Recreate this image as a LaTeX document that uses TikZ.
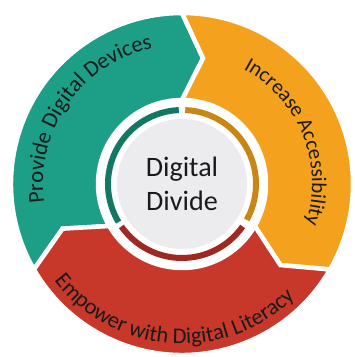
\documentclass[tikz,border=0pt]{standalone}
\usepackage{fontspec}
\setmainfont{Carlito}
\usetikzlibrary{decorations.text}

\definecolor{devGreen}{HTML}{1D9E86}
\definecolor{accOrange}{HTML}{F4A21E}
\definecolor{litRed}{HTML}{C7382B}
\definecolor{devGreenDark}{HTML}{127864}
\definecolor{accOrangeDark}{HTML}{C88714}
\definecolor{litRedDark}{HTML}{A02823}
\definecolor{hubGray}{HTML}{ECECEE}
\definecolor{inkDark}{HTML}{1A1A1A}

\newcommand{\curvefont}{\fontsize{12.8}{15}\selectfont\color{inkDark}}

\begin{document}
\begin{tikzpicture}[x=0.02cm,y=0.02cm,
    ringpart/.style 2 args={insert path={
        (#1:171) arc[start angle=#1, end angle=#2, radius=171]
        -- ({#2-9.5}:127.5) -- (#2:84)
        arc[start angle=#2, end angle=#1, radius=84]
        -- ({#1-9.5}:127.5) -- cycle}},
    part/.style={draw=white, line width=0.09cm, line join=miter},
    innerarc/.style={line width=0.12cm},
    hub/.style={circle, fill=hubGray, minimum size=2.6cm, inner sep=0pt,
        align=center, text=inkDark, font=\fontsize{16}{19}\selectfont}]

    \useasboundingbox (-182,-173) rectangle (172,184);

    % Define ring parts
    \fill[part, fill=devGreen, ringpart={210}{90}];
    \fill[part, fill=accOrange, ringpart={90}{-30}];
    \fill[part, fill=litRed, ringpart={330}{210}];

    % Inner arcs
    \draw[innerarc, devGreenDark] (211:74) arc[start angle=211, end angle=92.5, radius=74];
    \draw[innerarc, accOrangeDark] (87.5:74) arc[start angle=87.5, end angle=-29, radius=74];
    \draw[innerarc, litRedDark] (-35:74) arc[start angle=-35, end angle=-145, radius=74];

    % Hub
    \node[hub] (divide) at (0,0) {Digital\\Divide};

    % Curved labels
    \path[decorate, decoration={text along path, text align=center,
        text={|\curvefont|Provide Digital Devices}}]
        (200:139) arc[start angle=200, end angle=90, radius=139];
    \path[decorate, decoration={text along path, text align=center,
        text={|\curvefont\fontsize{12}{14}\selectfont|Increase Accessibility}}]
        (80:130) arc[start angle=80, end angle=-36, radius=130];
    \path[decorate, decoration={text along path, text align=center,
        text={|\curvefont|Empower with Digital Literacy}}]
        (206:160) arc[start angle=206, end angle=326, radius=160];

\end{tikzpicture}
\end{document}
